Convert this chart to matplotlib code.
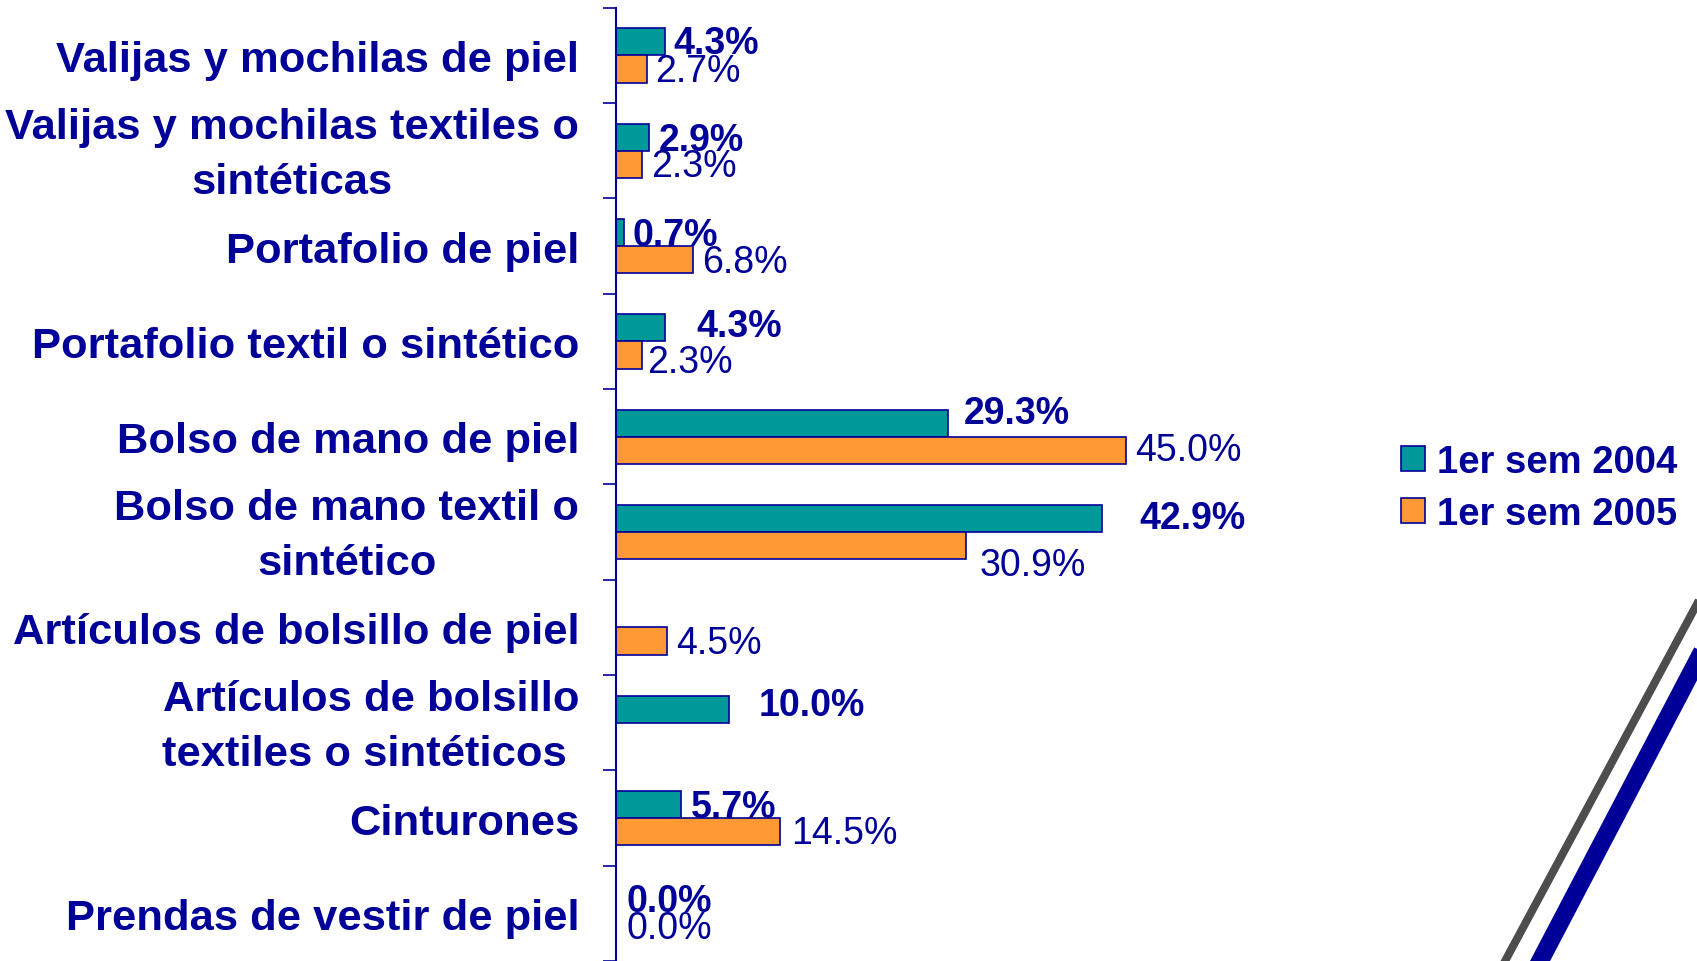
import numpy as np
import matplotlib.pyplot as plt
from matplotlib.patches import Patch
from matplotlib.lines import Line2D
from matplotlib.transforms import ScaledTranslation

plt.rcParams['font.family'] = ['Liberation Sans', 'DejaVu Sans']

categories = ["Valijas y mochilas de piel",
              "Valijas y mochilas textiles o\nsintéticas",
              "Portafolio de piel",
              "Portafolio textil o sintético",
              "Bolso de mano de piel",
              "Bolso de mano textil o\nsintético",
              "Artículos de bolsillo de piel",
              "Artículos de bolsillo\ntextiles o sintéticos ",
              "Cinturones",
              "Prendas de vestir de piel"]
sem_2004 = [4.3, 2.9, 0.7, 4.3, 29.3, 42.9, np.nan, 10.0, 5.7, 0.0]
sem_2005 = [2.7, 2.3, 6.8, 2.3, 45.0, 30.9, 4.5, np.nan, 14.5, 0.0]
series_names = ['1er sem 2004', '1er sem 2005']

# label nudges in pixels (the original slide places them a bit irregularly)
dx_2004 = [9, 10, 9, 32, 16, 37, 0, 29, 10, 10]
dy_2004 = [1, 3, 2, -2, -9, 0, 0, -4, 2, 1]
dx_2005 = [9, 9, 9, 5, 9, 13, 9, 0, 11, 10]
dy_2005 = [2, 2, 2, 7, 0, 18, 2, 0, 1, 1]

navy = '#000099'
teal = '#009999'
orange = '#FF9933'

W, H = 1697, 962
fig = plt.figure(figsize=(W / 100, H / 100), dpi=100)
ax = fig.add_axes([616 / W, 0, 680 / W, 1 - 8.7 / H])

y = np.arange(len(categories))
h = 0.285
for vals, off, col, dxs, dys, weight in [(sem_2004, -h / 2, teal, dx_2004, dy_2004, 'bold'),
                                          (sem_2005, h / 2, orange, dx_2005, dy_2005, 'normal')]:
    for i, v in enumerate(vals):
        if np.isnan(v):
            continue
        ax.barh(y[i] + off, v, height=h, color=col, edgecolor=navy, linewidth=1.2)
        ax.annotate('%.1f%%' % v, (v, y[i] + off),
                    xytext=(dxs[i] * 0.72, -dys[i] * 1.08 * 0.72), textcoords='offset points',
                    ha='left', va='center', fontsize=27, color=navy, fontweight=weight)

ax.set_xlim(0, 60)
ax.set_ylim(len(categories) - 0.5, -0.5)
ax.set_yticks(y)
ax.set_yticklabels(categories, ma='center', linespacing=1.48)
ax.set_yticks(np.arange(len(categories) + 1) - 0.5, minor=True)
ax.tick_params(axis='y', which='major', length=0, pad=26.5, labelsize=31.3, labelcolor=navy)
for t in ax.get_yticklabels():
    t.set_fontweight('bold')
    if '\n' in t.get_text():
        t.set_transform(t.get_transform() + ScaledTranslation(0, 6 / 72, fig.dpi_scale_trans))
ax.tick_params(axis='y', which='minor', length=9.4, width=1.2, color=navy)
ax.set_xticks([])
for s in ['top', 'right', 'bottom']:
    ax.spines[s].set_visible(False)
ax.spines['left'].set_color(navy)
ax.spines['left'].set_linewidth(1.5)

handles = [Patch(facecolor=teal, edgecolor=navy, linewidth=1.2),
           Patch(facecolor=orange, edgecolor=navy, linewidth=1.2)]
leg = fig.legend(handles, series_names, loc='center left',
                 bbox_to_anchor=(1401 / W, 1 - 489 / H), frameon=False,
                 handlelength=0.63, handleheight=0.63, handletextpad=0.3,
                 labelspacing=0.4, borderpad=0, borderaxespad=0,
                 prop={'size': 27.5, 'weight': 'bold'})
for t in leg.get_texts():
    t.set_color(navy)

# decorative diagonal stripes
fig.add_artist(Line2D([1697 / W, 1504 / W], [1 - 605 / H, 1 - 964 / H],
                      transform=fig.transFigure, color='#4D4D4D', linewidth=5.8))
fig.add_artist(Line2D([1705 / W, 1539 / W], [1 - 647 / H, 1 - 964 / H],
                      transform=fig.transFigure, color=navy, linewidth=12.8))

fig.savefig('out.png', dpi=100)
